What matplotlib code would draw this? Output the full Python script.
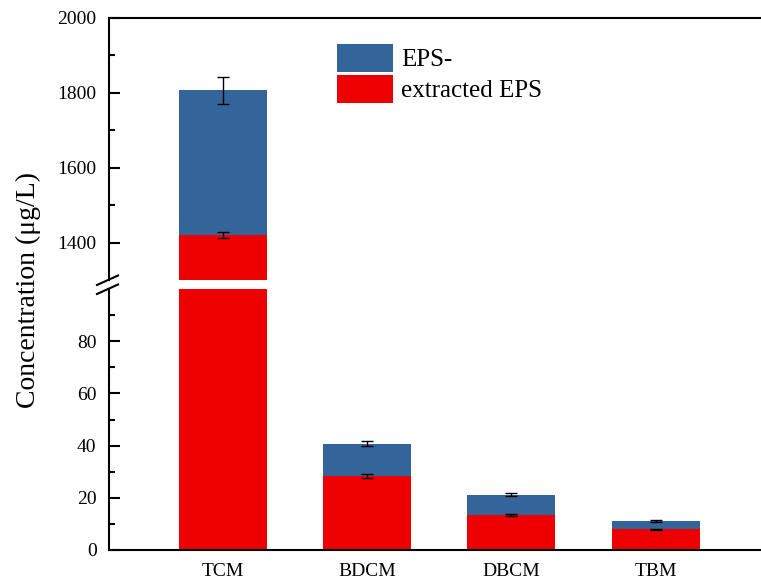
import numpy as np
import matplotlib
matplotlib.use("Agg")
import matplotlib.pyplot as plt
from matplotlib.patches import Patch
from matplotlib.lines import Line2D

plt.rcParams['font.family'] = ['Liberation Serif', 'DejaVu Serif']
plt.rcParams['mathtext.fontset'] = 'stix'

# Concentrations of the four THMs (ug/L)
categories = ['TCM', 'BDCM', 'DBCM', 'TBM']
eps_minus = [1807, 40.7, 21.2, 11.1]
eps_minus_err = [36, 0.9, 0.7, 0.4]
extracted_eps = [1420, 28.5, 13.4, 7.9]
extracted_eps_err = [7, 0.8, 0.3, 0.3]

blue = '#34659a'
red = '#ee0000'

W, H = 761, 583
fig = plt.figure(figsize=(W / 100, H / 100), dpi=100)

left = 109 / W
ax_top = fig.add_axes([left, 1 - 280 / H, 1 - left, (280 - 18) / H])
ax_bot = fig.add_axes([left, 1 - 550 / H, 1 - left, (550 - 289) / H])

x = np.arange(1, len(categories) + 1)
width = 0.61
err_kw = dict(elinewidth=1, capthick=1, ecolor='black')

for ax in (ax_top, ax_bot):
    ax.bar(x, eps_minus, width, color=blue, yerr=eps_minus_err,
           capsize=4, error_kw=err_kw)
    ax.bar(x, extracted_eps, width, color=red, yerr=extracted_eps_err,
           capsize=4, error_kw=err_kw)
    ax.set_xlim(0.21, 4.73)
    ax.spines['right'].set_visible(False)
    for s in ('left', 'top', 'bottom'):
        ax.spines[s].set_linewidth(1.5)
    ax.tick_params(axis='y', which='major', direction='in', length=8,
                   width=1.5, labelsize=14, pad=9)
    ax.tick_params(axis='y', which='minor', direction='in', length=4.5,
                   width=1.5)

ax_top.set_ylim(1300, 2000)
ax_top.set_yticks([1400, 1600, 1800, 2000])
ax_top.set_yticks([1500, 1700, 1900], minor=True)
ax_top.spines['bottom'].set_visible(False)
ax_top.tick_params(axis='x', bottom=False, labelbottom=False)

ax_bot.set_ylim(0, 100)
ax_bot.set_yticks([0, 20, 40, 60, 80])
ax_bot.set_yticks([10, 30, 50, 70, 90], minor=True)
ax_bot.spines['top'].set_visible(False)
ax_bot.set_xticks(x)
ax_bot.set_xticklabels(categories)
ax_bot.tick_params(axis='x', length=0, labelsize=14, pad=9)

# break marks on the y axis
for y0 in (285, 294):
    fig.add_artist(Line2D([97 / W, 118 / W],
                          [1 - y0 / H, 1 - (y0 - 9.5) / H],
                          color='black', lw=1.5))

fig.text(28 / W, 1 - 290 / H, 'Concentration (μg/L)', rotation=90,
         ha='center', va='center', fontsize=20)

handles = [Patch(facecolor=blue, label='EPS-'),
           Patch(facecolor=red, label='extracted EPS')]
fig.legend(handles=handles, loc='upper left',
           bbox_to_anchor=(337 / W, 1 - 44 / H), frameon=False,
           fontsize=18, handlelength=2.25, handleheight=1.33,
           handletextpad=0.3, labelspacing=0.13, borderpad=0,
           borderaxespad=0)

fig.savefig('out.png', dpi=100)
